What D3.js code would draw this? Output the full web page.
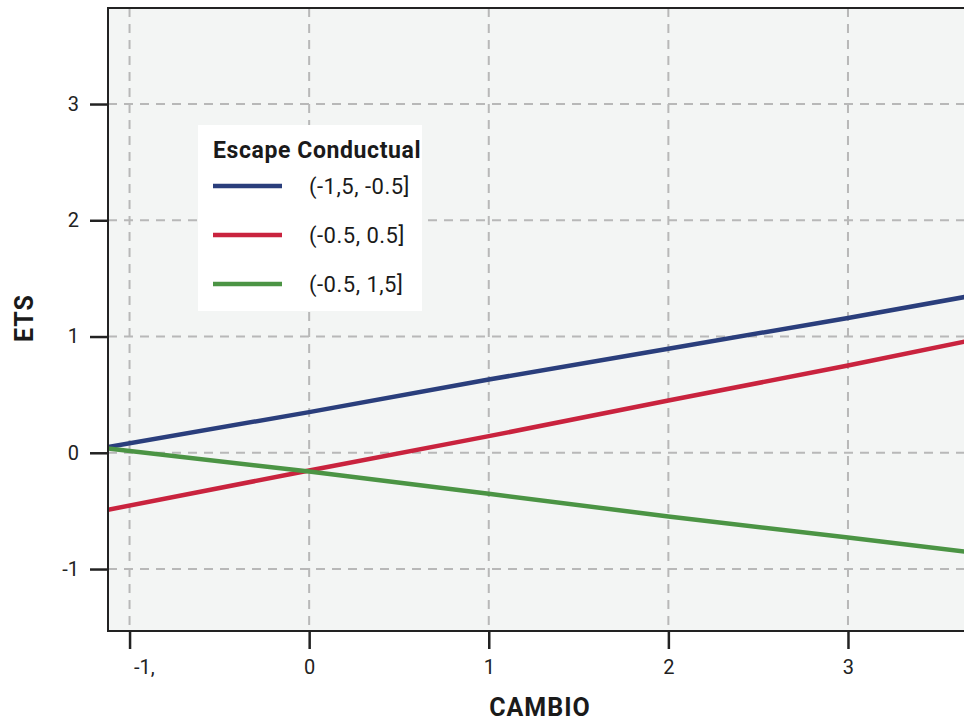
<!DOCTYPE html>
<html>
<head>
<meta charset="utf-8">
<script src="https://cdn.jsdelivr.net/npm/d3@7"></script>
<style>
  html, body { margin: 0; padding: 0; background: #ffffff; }
  svg { display: block; font-family: Roboto, "Noto Sans", sans-serif; }
</style>
</head>
<body>
<svg id="chart" width="964" height="723"></svg>
<script>
// CAMBIO sample positions (plot spans the full visible range)
const cambio = [-1.12, 0, 1, 2, 3, 3.65];

// Predicted ETS for each Escape Conductual group
const seriesNames = ["(-1,5, -0.5]", "(-0.5, 0.5]", "(-0.5, 1,5]"];
const etsLow  = [0.05, 0.35, 0.63, 0.895, 1.16, 1.34];
const etsMid  = [-0.49, -0.152, 0.143, 0.45, 0.751, 0.957];
const etsHigh = [0.037, -0.161, -0.352, -0.548, -0.729, -0.85];
const seriesColors = ["#2a3e7c", "#c9233e", "#4b9444"];

const xTicks = [-1, 0, 1, 2, 3];
const xTickLabels = ["-1,", "0", "1", "2", "3"];
const yTicks = [-1, 0, 1, 2, 3];
const yTickLabels = ["-1", "0", "1", "2", "3"];

const series = [etsLow, etsMid, etsHigh].map((vals, i) => ({
  name: seriesNames[i],
  color: seriesColors[i],
  points: cambio.map((c, j) => ({ x: c, y: vals[j] }))
}));

const svg = d3.select("#chart");
const plotL = 108, plotT = 8, plotR = 964, plotB = 631;

const x = d3.scaleLinear().domain([-1.12, 3.646]).range([plotL, plotR]);
const y = d3.scaleLinear().domain([-1.533, 3.826]).range([plotB, plotT]);

// plot background
svg.append("rect")
  .attr("x", plotL).attr("y", plotT)
  .attr("width", plotR - plotL + 20).attr("height", plotB - plotT)
  .attr("fill", "#f3f5f4");

// dashed grid
const grid = svg.append("g")
  .attr("stroke", "#b8b8b8").attr("stroke-width", 2)
  .attr("stroke-dasharray", "9,7");
grid.selectAll("line.v").data(xTicks).join("line")
  .attr("class", "v")
  .attr("x1", d => x(d)).attr("x2", d => x(d))
  .attr("y1", plotT).attr("y2", plotB);
grid.selectAll("line.h").data(yTicks).join("line")
  .attr("class", "h")
  .attr("x1", plotL).attr("x2", plotR)
  .attr("y1", d => y(d)).attr("y2", d => y(d));

// series lines
const line = d3.line().x(d => x(d.x)).y(d => y(d.y));
svg.append("defs").append("clipPath").attr("id", "plotclip")
  .append("rect").attr("x", plotL).attr("y", plotT)
  .attr("width", plotR - plotL).attr("height", plotB - plotT);
svg.append("g").attr("clip-path", "url(#plotclip)")
  .selectAll("path").data(series).join("path")
  .attr("d", d => line(d.points))
  .attr("fill", "none")
  .attr("stroke", d => d.color)
  .attr("stroke-width", 4.5);

// frame
svg.append("rect")
  .attr("x", plotL).attr("y", plotT)
  .attr("width", plotR - plotL + 20).attr("height", plotB - plotT)
  .attr("fill", "none").attr("stroke", "#222").attr("stroke-width", 2);

// axes
const xAxis = svg.append("g")
  .attr("transform", `translate(0,${plotB})`)
  .call(d3.axisBottom(x).tickValues(xTicks)
    .tickFormat((d, i) => xTickLabels[i])
    .tickSize(18).tickPadding(11));
const yAxis = svg.append("g")
  .attr("transform", `translate(${plotL},0)`)
  .call(d3.axisLeft(y).tickValues(yTicks)
    .tickFormat((d, i) => yTickLabels[i])
    .tickSize(18).tickPadding(11));

[xAxis, yAxis].forEach(g => {
  g.select(".domain").remove();
  g.selectAll(".tick line").attr("stroke", "#222").attr("stroke-width", 2.5);
  g.selectAll(".tick text")
    .attr("fill", "#222")
    .style("font-size", "20px")
    .style("font-family", "Roboto, sans-serif");
});
// first x label sits just right of its tick
xAxis.selectAll(".tick text").filter(d => d === -1)
  .attr("text-anchor", "start").attr("dx", "4");

// axis titles
svg.append("text")
  .attr("x", 540).attr("y", 716)
  .attr("text-anchor", "middle")
  .attr("fill", "#1a1a1a")
  .style("font-size", "25px").style("font-weight", "bold")
  .style("letter-spacing", "1px")
  .text("CAMBIO");
svg.append("text")
  .attr("transform", "translate(33,318) rotate(-90)")
  .attr("text-anchor", "middle")
  .attr("fill", "#1a1a1a")
  .style("font-size", "25px").style("font-weight", "bold")
  .style("letter-spacing", "1px")
  .text("ETS");

// legend
const legend = svg.append("g");
legend.append("rect")
  .attr("x", 198).attr("y", 125)
  .attr("width", 224).attr("height", 186)
  .attr("fill", "#ffffff");
legend.append("text")
  .attr("x", 213).attr("y", 158)
  .attr("fill", "#1a1a1a")
  .style("font-size", "23px").style("font-weight", "bold")
  .style("letter-spacing", "0.6px")
  .text("Escape Conductual");
const items = legend.selectAll("g.item").data(series).join("g")
  .attr("class", "item")
  .attr("transform", (d, i) => `translate(0,${186 + i * 49})`);
items.append("line")
  .attr("x1", 213).attr("x2", 282)
  .attr("stroke", d => d.color).attr("stroke-width", 4.5);
items.append("text")
  .attr("x", 309).attr("y", 8)
  .attr("fill", "#1a1a1a")
  .style("font-size", "22px")
  .style("letter-spacing", "0.5px")
  .text(d => d.name);
</script>
</body>
</html>
